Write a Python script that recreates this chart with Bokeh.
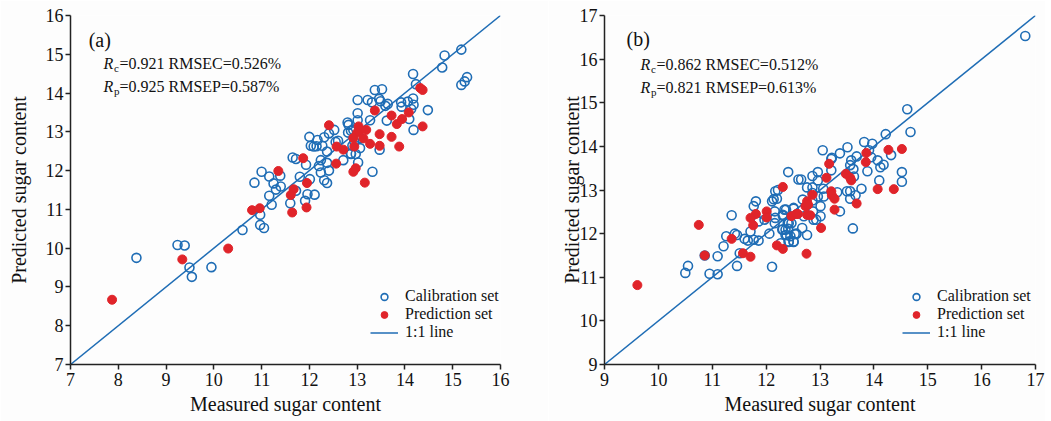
from bokeh.plotting import figure
from bokeh.models import Range1d, FixedTicker, Label, Legend, LegendItem
from bokeh.layouts import row
from bokeh.embed import file_html
from bokeh.resources import INLINE

# ---------------- data: panel (a) ----------------
a_cal_x = [8.38, 9.24, 9.39, 9.49, 9.54, 9.95, 10.60, 10.85, 10.97, 10.97, 11.05, 11.00, 11.16, 11.25, 11.30,
           11.16, 11.21, 11.39, 11.40, 11.65, 11.72, 11.93, 11.80, 11.72, 11.60, 11.91, 11.96, 12.11, 12.01, 12.20,
           12.24, 12.37, 12.41, 12.24, 12.31, 12.37, 12.71, 12.87, 13.32, 13.02, 12.00, 12.03, 12.09, 12.15, 12.17,
           12.27, 12.31, 12.41, 12.52, 12.55, 12.60, 12.37, 12.80, 12.82, 12.81, 12.87, 12.92, 13.01, 13.01, 13.06,
           12.94, 12.90, 13.06, 12.87, 12.97, 13.01, 13.22, 13.31, 13.37, 13.52, 13.46, 13.49, 13.59, 13.64, 13.27,
           13.62, 13.92, 13.93, 14.06, 14.17, 14.18, 14.13, 14.09, 14.18, 14.48, 13.47, 14.17, 14.23, 14.83, 14.78,
           15.18, 15.30, 15.25, 15.18]
a_cal_y = [9.75, 10.08, 10.07, 9.50, 9.26, 9.51, 10.47, 11.69, 10.86, 10.60, 10.52, 11.97, 11.85, 11.67, 11.51,
           11.35, 11.12, 11.87, 11.59, 12.34, 12.30, 12.15, 11.84, 11.48, 11.16, 11.22, 11.39, 11.38, 11.78, 12.12,
           12.27, 12.20, 12.00, 11.95, 11.75, 11.68, 12.27, 12.43, 11.97, 12.21, 12.87, 12.64, 12.62, 12.63, 12.79,
           12.64, 12.86, 12.96, 13.05, 12.74, 12.77, 12.49, 13.24, 13.18, 12.98, 13.03, 13.05, 13.48, 13.30, 12.84,
           12.75, 12.64, 12.58, 12.44, 12.43, 13.82, 13.82, 13.76, 14.08, 14.10, 13.85, 13.79, 13.67, 13.72, 13.30,
           13.29, 13.76, 13.65, 13.78, 13.86, 13.70, 13.59, 13.33, 13.05, 13.56, 12.54, 14.49, 14.23, 14.97, 14.66,
           15.12, 14.41, 14.30, 14.21]
a_pre_x = [7.87, 9.34, 10.30, 10.80, 10.96, 11.35, 11.87, 11.67, 11.61, 11.64, 11.94, 11.95, 12.56, 12.92, 12.97,
           13.16, 12.41, 12.57, 12.71, 13.03, 13.06, 13.00, 12.92, 13.13, 13.19, 12.94, 13.37, 13.72, 13.83, 13.94,
           14.08, 14.37, 13.47, 13.72, 13.88, 13.47, 13.27, 14.32, 14.37]
a_pre_y = [8.67, 9.71, 9.99, 10.98, 11.03, 11.99, 12.32, 11.52, 11.37, 10.92, 11.05, 11.68, 12.18, 11.97, 12.06,
           11.69, 13.17, 12.62, 12.54, 13.14, 13.05, 12.98, 12.84, 12.83, 13.05, 12.62, 13.55, 13.42, 13.20, 13.33,
           13.50, 13.14, 12.94, 12.87, 12.62, 12.64, 12.69, 14.13, 14.08]

# ---------------- data: panel (b) ----------------
b_cal_x = [10.50, 10.55, 10.95, 11.10, 10.86, 11.10, 11.46, 11.51, 12.11, 11.36, 11.26, 11.21, 11.42, 11.46, 11.60,
           11.66, 11.77, 11.86, 11.71, 11.77, 11.81, 11.86, 11.97, 12.06, 12.11, 12.14, 12.20, 12.17, 12.22, 12.41,
           12.16, 12.17, 12.16, 12.34, 12.31, 12.51, 12.60, 12.42, 12.36, 12.30, 12.38, 12.45, 12.56, 12.42, 12.51,
           12.27, 14.62, 14.68, 14.22, 13.82, 13.97, 13.51, 13.37, 13.05, 13.21, 13.91, 13.95, 14.07, 14.18, 14.12,
           14.32, 13.68, 13.58, 13.62, 13.88, 14.10, 14.52, 14.52, 13.77, 13.37, 13.61, 13.63, 13.50, 13.56, 13.56,
           13.66, 13.21, 12.96, 12.86, 12.65, 12.96, 12.76, 12.86, 13.06, 12.86, 13.32, 13.07, 12.96, 12.86, 12.68,
           12.51, 12.37, 13.01, 12.70, 13.01, 12.88, 12.93, 12.31, 12.40, 12.47, 12.67, 12.31, 12.36, 12.56, 12.76,
           12.42, 12.51, 13.22, 13.56, 12.87, 12.41, 12.53, 16.81]
b_cal_y = [11.10, 11.26, 11.08, 11.07, 11.50, 11.48, 11.26, 11.55, 11.24, 12.42, 11.94, 11.71, 12.00, 11.97, 11.88,
           11.84, 11.86, 11.84, 12.05, 12.63, 12.74, 12.28, 12.32, 12.00, 12.74, 12.79, 12.80, 12.97, 13.00, 13.41,
           12.51, 12.36, 12.24, 12.55, 12.41, 12.57, 13.24, 12.24, 12.09, 12.09, 11.97, 11.94, 11.99, 11.82, 11.82,
           11.78, 14.85, 14.33, 14.28, 14.10, 14.06, 13.98, 13.84, 13.91, 13.71, 13.91, 13.75, 13.68, 13.58, 13.52,
           13.80, 13.77, 13.68, 13.48, 13.43, 13.22, 13.41, 13.19, 13.03, 12.51, 12.12, 13.31, 12.97, 12.97, 12.80,
           12.88, 13.45, 13.41, 13.32, 13.24, 13.22, 13.06, 13.06, 13.03, 12.93, 12.95, 12.85, 12.85, 12.76, 12.78,
           12.59, 12.55, 12.63, 12.40, 12.40, 12.32, 12.32, 12.43, 12.24, 12.24, 12.13, 12.10, 11.97, 12.00, 11.97,
           11.81, 11.81, 13.74, 13.57, 12.51, 12.11, 11.99, 16.53]
b_pre_x = [9.61, 10.86, 11.57, 11.71, 10.75, 11.36, 11.76, 11.81, 11.71, 12.01, 12.01, 12.31, 12.47, 12.56, 12.20,
           12.31, 13.86, 14.27, 14.52, 13.85, 14.07, 14.37, 13.68, 13.48, 13.56, 13.58, 13.17, 13.12, 13.21, 13.22,
           13.27, 12.86, 12.76, 12.73, 13.27, 12.76, 12.82, 13.02, 12.75, 12.59, 12.78]
b_pre_y = [10.82, 11.50, 11.55, 11.47, 12.20, 11.88, 12.19, 12.45, 12.36, 12.51, 12.37, 13.07, 12.40, 12.45, 11.73,
           11.65, 13.85, 13.92, 13.94, 13.64, 13.02, 13.02, 12.69, 13.37, 13.28, 13.22, 13.60, 13.28, 12.97, 12.88,
           12.80, 12.89, 12.74, 12.63, 12.55, 12.43, 12.42, 12.13, 11.54, 12.45, 12.66]

a_limits = [7, 16]
b_limits = [9, 17]
a_ticks = list(range(7, 17))
b_ticks = list(range(9, 18))
a_stats = ["c", "=0.921 RMSEC=0.526%", "p", "=0.925 RMSEP=0.587%"]
b_stats = ["c", "=0.862 RMSEC=0.512%", "p", "=0.821 RMSEP=0.613%"]

BLUE = "#1f6db5"
RED = "#e0242a"
FONT = "Liberation Serif"
BG = "#fdfdfd"


def make_panel(cal_x, cal_y, pre_x, pre_y, limits, ticks, stats, tag, width, bl, br,
               ylab_standoff, tag_xy, stat_xy, leg_loc):
    p = figure(width=width, height=421, output_backend="svg", toolbar_location=None,
               x_range=Range1d(limits[0], limits[1]), y_range=Range1d(limits[0], limits[1]),
               min_border_left=bl, min_border_right=br, min_border_top=15, min_border_bottom=57,
               background_fill_color=BG, border_fill_color=BG)
    p.outline_line_color = None
    p.grid.visible = False
    for ax in (p.xaxis[0], p.yaxis[0]):
        ax.ticker = FixedTicker(ticks=ticks)
        ax.minor_tick_line_color = None
        ax.major_tick_in = 0
        ax.major_tick_out = 5
        ax.axis_line_color = "#222222"
        ax.axis_line_width = 1.5
        ax.major_tick_line_color = "#222222"
        ax.major_tick_line_width = 1.5
        ax.major_label_text_font = FONT
        ax.major_label_text_font_size = "18px"
        ax.major_label_text_color = "#111111"
        ax.axis_label_text_font = FONT
        ax.axis_label_text_font_size = "20px"
        ax.axis_label_text_font_style = "normal"
        ax.axis_label_text_color = "#111111"
    p.xaxis.major_label_standoff = 3
    p.xaxis.axis_label_standoff = 4
    p.yaxis.major_label_standoff = 2
    p.yaxis.axis_label_standoff = ylab_standoff
    p.xaxis.axis_label = "Measured sugar content"
    p.yaxis.axis_label = "Predicted sugar content"

    line = p.line(limits, limits, line_color=BLUE, line_width=1.5)
    cal = p.scatter(cal_x, cal_y, marker="circle", size=9, fill_color=None,
                    line_color=BLUE, line_width=1.6)
    pre = p.scatter(pre_x, pre_y, marker="circle", size=9, fill_color=RED,
                    line_color=RED, line_width=1)

    legend = Legend(items=[LegendItem(label="Calibration set", renderers=[cal]),
                           LegendItem(label="Prediction set", renderers=[pre]),
                           LegendItem(label="1:1 line", renderers=[line])],
                    location=leg_loc, padding=0, margin=0, spacing=0,
                    glyph_width=28, glyph_height=17, label_height=17, label_standoff=7,
                    border_line_color=None, background_fill_alpha=0,
                    label_text_font=FONT, label_text_font_size="16px",
                    label_text_color="#111111")
    p.add_layout(legend)

    p.add_layout(Label(x=tag_xy[0], y=tag_xy[1], text=tag, text_font=FONT,
                       text_font_size="20px", text_baseline="middle", text_color="#111111"))
    sx, sy, dy = stat_xy
    for i, (sub, rest) in enumerate([(stats[0], stats[1]), (stats[2], stats[3])]):
        yy = sy - i * dy
        p.add_layout(Label(x=sx, y=yy, text="R", text_font=FONT, text_font_style="italic",
                           text_font_size="16px", text_baseline="middle", text_color="#111111"))
        p.add_layout(Label(x=sx, y=yy, x_offset=10.5, y_offset=-4, text=sub, text_font=FONT,
                           text_font_size="11px", text_baseline="middle", text_color="#111111"))
        p.add_layout(Label(x=sx, y=yy, x_offset=16, text=rest, text_font=FONT,
                           text_font_size="16px", text_baseline="middle", text_color="#111111"))
    return p


pa = make_panel(a_cal_x, a_cal_y, a_pre_x, a_pre_y, a_limits, a_ticks, a_stats, "(a)",
                548, 70, 48, 13, (7.38, 15.37), (7.69, 14.75, 0.59), (300, 23))
pb = make_panel(b_cal_x, b_cal_y, b_pre_x, b_pre_y, b_limits, b_ticks, b_stats, "(b)",
                497, 56, 10, -6, (9.41, 16.46), (9.67, 15.87, 0.53), (298, 23))

layout = row(pa, pb)
open("out.html", "w").write(file_html(layout, INLINE))
